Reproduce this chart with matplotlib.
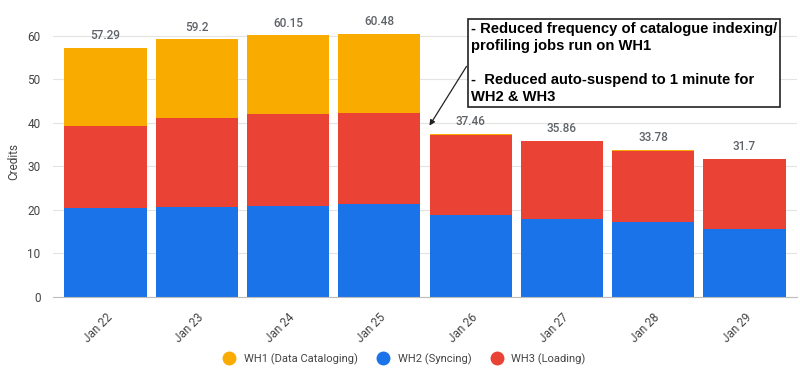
import matplotlib.pyplot as plt
from matplotlib.lines import Line2D

# data
days = ['Jan 22', 'Jan 23', 'Jan 24', 'Jan 25', 'Jan 26', 'Jan 27', 'Jan 28', 'Jan 29']
wh2 = [20.46, 20.6, 21.0, 21.4, 18.8, 17.9, 17.2, 15.6]      # Syncing
wh3 = [18.74, 20.5, 21.1, 20.9, 18.46, 17.81, 16.43, 16.0]   # Loading
wh1 = [18.09, 18.1, 18.05, 18.18, 0.2, 0.15, 0.15, 0.1]      # Data Cataloging

c_wh1 = '#f9ab00'
c_wh2 = '#1a73e8'
c_wh3 = '#ea4335'

plt.rcParams['font.family'] = ['Roboto', 'DejaVu Sans']

fig = plt.figure(figsize=(8, 3.74), dpi=100)
ax = fig.add_axes([53 / 800, 77 / 374, 744 / 800, 270 / 374])

x = list(range(len(days)))
w = 0.9
ax.bar(x, wh2, width=w, color=c_wh2, zorder=2)
ax.bar(x, wh3, width=w, bottom=wh2, color=c_wh3, zorder=2)
bottom2 = [a + b for a, b in zip(wh2, wh3)]
ax.bar(x, wh1, width=w, bottom=bottom2, color=c_wh1, zorder=2)

totals = [a + b for a, b in zip(bottom2, wh1)]
for i, t in enumerate(totals):
    ax.annotate(f'{round(t, 2):g}', (i, t), xytext=(0, 4), textcoords='offset points',
                ha='center', va='bottom', fontsize=8.5, fontweight='medium',
                color='#5f6368', clip_on=False)

ax.set_xlim(-0.575, 7.575)
ax.set_ylim(0, 62)
ax.set_yticks(range(0, 61, 10))
ax.yaxis.grid(True, color='#e3e3e3', linewidth=0.8, zorder=0)
ax.set_axisbelow(True)
for s in ['top', 'right', 'left']:
    ax.spines[s].set_visible(False)
ax.spines['bottom'].set_color('#bdbdbd')
ax.tick_params(axis='both', length=0, labelsize=8.5, colors='#444444')
ax.tick_params(axis='y', pad=9)
ax.set_xticks(x)
ax.set_xticklabels(days, rotation=45, ha='right', rotation_mode='anchor')
ax.tick_params(axis='x', pad=10)
ax.set_ylabel('Credits', fontsize=8.5, color='#444444', labelpad=5)

# annotation box with arrow
note = ('- Reduced frequency of catalogue indexing/\n'
        'profiling jobs run on WH1\n\n'
        '-  Reduced auto-suspend to 1 minute for\n'
        'WH2 & WH3')
fig.text(471 / 800, 1 - 22 / 374, note, ha='left', va='top',
         family=['Liberation Sans', 'DejaVu Sans'], fontweight='bold', fontsize=10.6,
         linespacing=1.27,
         bbox=dict(boxstyle='square,pad=0.2', facecolor='white', edgecolor='#222222', linewidth=1.2))
ax.annotate('', xy=(428 / 800, 1 - 128 / 374), xycoords='figure fraction',
            xytext=(468 / 800, 1 - 64 / 374), textcoords='figure fraction',
            arrowprops=dict(arrowstyle='-|>', color='#222222', lw=0.9, mutation_scale=8))

handles = [Line2D([], [], marker='o', linestyle='', markersize=9, color=c)
           for c in (c_wh1, c_wh2, c_wh3)]
fig.legend(handles, ['WH1 (Data Cataloging)', 'WH2 (Syncing)', 'WH3 (Loading)'],
           loc='center', bbox_to_anchor=(402 / 800, 1 - 359 / 374), ncol=3, frameon=False,
           fontsize=8, labelcolor='#444444', handletextpad=0.3, columnspacing=1.3)

fig.savefig('out.png', dpi=100)
